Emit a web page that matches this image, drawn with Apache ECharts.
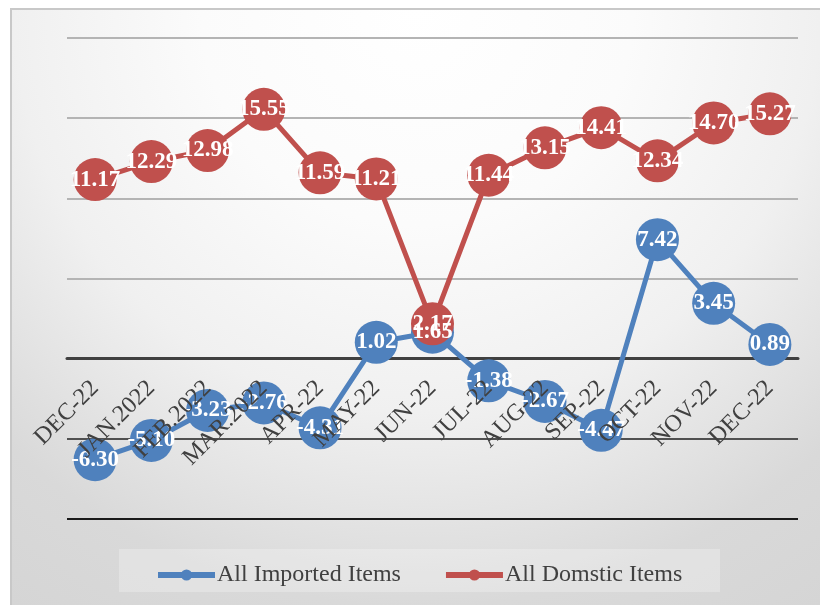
<!DOCTYPE html>
<html>
<head>
<meta charset="utf-8">
<style>
  html, body { margin: 0; padding: 0; background: #ffffff; }
  #chart { width: 820px; height: 605px; }
</style>
<script src="https://cdn.jsdelivr.net/npm/echarts@6/dist/echarts.min.js"></script>
</head>
<body>
<div id="chart"></div>
<script>
// Monthly change (%) of import and domestic price indices
const categories = ['DEC-22', 'JAN.2022', 'FEB.2022', 'MAR.2022', 'APR-22', 'MAY-22',
  'JUN-22', 'JUL-22', 'AUG-22', 'SEP-22', 'OCT-22', 'NOV-22', 'DEC-22'];
const importedItems = [-6.30, -5.10, -3.23, -2.76, -4.31, 1.02, 1.65, -1.38, -2.67, -4.47, 7.42, 3.45, 0.89];
const domesticItems = [11.17, 12.29, 12.98, 15.55, 11.59, 11.21, 2.17, 11.44, 13.15, 14.41, 12.34, 14.70, 15.27];
const seriesNames = ['All Imported Items', 'All Domstic Items'];

const SERIF = '"Liberation Serif", "Times New Roman", serif';
const BLUE = '#4f81bd';
const RED = '#c0504d';

const Y_MIN = -10, Y_MAX = 20;
const GRID_TOP = 38, GRID_BOTTOM_PX = 519;
// the category axis sits on the zero line, so shift it up from the grid bottom
const zeroOffset = -(GRID_BOTTOM_PX - GRID_TOP) * (0 - Y_MIN) / (Y_MAX - Y_MIN);

const chart = echarts.init(document.getElementById('chart'), null, { renderer: 'canvas' });

function lineSeries(name, data, color) {
  return {
    name: name,
    type: 'line',
    data: data,
    xAxisIndex: 0,
    symbol: 'circle',
    symbolSize: 43,
    showSymbol: true,
    showAllSymbol: true,
    itemStyle: { color: color },
    lineStyle: { color: color, width: 5 },
    label: {
      show: true,
      position: 'inside',
      color: '#ffffff',
      fontFamily: SERIF,
      fontWeight: 'bold',
      fontSize: 23,
      formatter: p => p.value.toFixed(2)
    },
    labelLayout: { hideOverlap: false },
    emphasis: { disabled: true },
    animation: false
  };
}

chart.setOption({
  backgroundColor: '#ffffff',
  graphic: [
    {
      type: 'rect',
      z: -10,
      shape: { x: 11, y: 9, width: 820, height: 610 },
      style: {
        fill: {
          type: 'radial', x: 417, y: 9, r: 720, global: true,
          colorStops: [
            { offset: 0, color: '#ffffff' },
            { offset: 0.3, color: '#fbfbfb' },
            { offset: 0.56, color: '#f0f0f0' },
            { offset: 0.83, color: '#d9d9d9' },
            { offset: 1, color: '#d5d5d5' }
          ]
        },
        stroke: '#c8c8c8',
        lineWidth: 2
      },
      silent: true
    },
    {
      type: 'rect',
      z: -5,
      shape: { x: 119, y: 549, width: 601, height: 43 },
      style: { fill: 'rgba(255,255,255,0.25)' },
      silent: true
    }
  ],
  grid: { left: 67, right: 22, top: GRID_TOP, bottom: 605 - GRID_BOTTOM_PX, outerBoundsMode: 'none', containLabel: false },
  legend: {
    data: seriesNames,
    left: 150,
    top: 558,
    itemWidth: 57,
    itemHeight: 14,
    itemGap: 42,
    lineStyle: { width: 6 },
    textStyle: { fontFamily: SERIF, fontSize: 24, color: '#404040', padding: [0, 0, 0, -3] }
  },
  xAxis: [
    {
      // zero line, drawn beneath the markers
      type: 'category',
      data: categories,
      position: 'bottom',
      boundaryGap: true,
      offset: zeroOffset,
      z: 0,
      axisLine: { onZero: false, lineStyle: { color: '#404040', width: 3 } },
      axisTick: { show: false },
      axisLabel: { show: false, interval: 0 },
      splitLine: { show: false }
    },
    {
      // month labels, drawn above the markers
      type: 'category',
      data: categories,
      position: 'bottom',
      boundaryGap: true,
      offset: zeroOffset,
      z: 5,
      axisLine: { show: false, onZero: false },
      axisTick: { show: false },
      axisLabel: {
        rotate: 45,
        interval: 0,
        margin: 26,
        fontFamily: SERIF,
        fontSize: 24,
        color: '#404040'
      },
      splitLine: { show: false }
    }
  ],
  yAxis: {
    type: 'value',
    min: Y_MIN,
    max: Y_MAX,
    interval: 5,
    axisLine: { show: false },
    axisTick: { show: false },
    axisLabel: { show: false },
    splitLine: {
      show: true,
      lineStyle: {
        width: 2,
        color: ['#1a1a1a', '#505050', '#404040', '#b4b4b4', '#b4b4b4', '#b4b4b4', '#b4b4b4']
      }
    }
  },
  series: [
    lineSeries(seriesNames[0], importedItems, BLUE),
    lineSeries(seriesNames[1], domesticItems, RED)
  ]
});
</script>
</body>
</html>
